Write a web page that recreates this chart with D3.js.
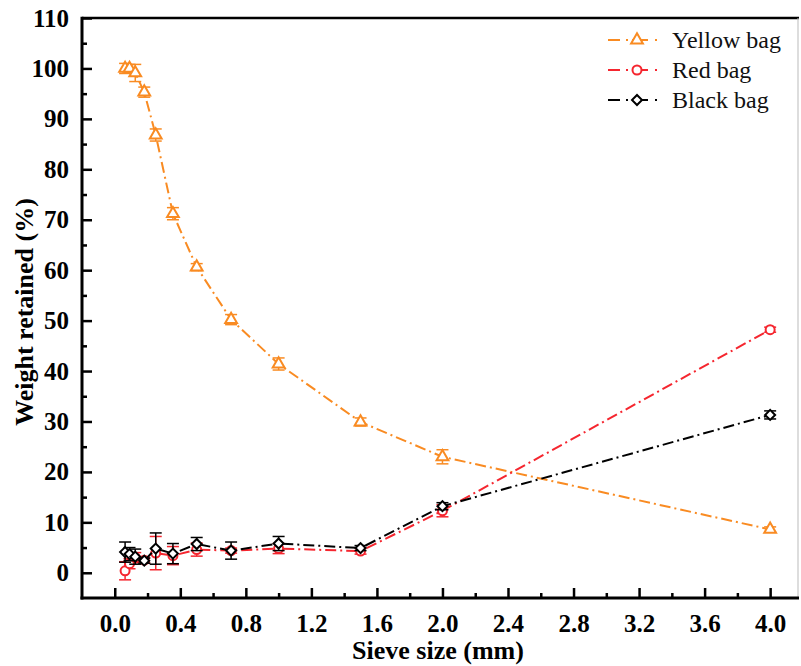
<!DOCTYPE html>
<html>
<head>
<meta charset="utf-8">
<script src="https://cdn.jsdelivr.net/npm/d3@7"></script>
<style>
  body { margin: 0; background: #fff; }
  svg { display: block; }
  text { font-family: "Liberation Serif", "Times New Roman", serif; }
  .tick-label { font-weight: bold; font-size: 25px; fill: #000; }
  .axis-title { font-weight: bold; font-size: 26px; fill: #000; }
  .legend-text { font-size: 24px; fill: #111; }
</style>
</head>
<body>
<svg width="801" height="666"></svg>
<script>
// sieve sizes (mm)
var sieve = [0.063, 0.09, 0.125, 0.18, 0.25, 0.355, 0.5, 0.71, 1.0, 1.5, 2.0, 4.0];

var yellow_val = [100.0, 100.0, 99.1, 95.3, 86.8, 71.2, 60.6, 50.2, 41.4, 29.9, 23.0, 8.6];
var yellow_err = [1.0, 0.8, 1.7, 1.0, 1.2, 1.2, 0.7, 1.0, 1.2, 0.8, 1.4, 0.5];

var red_val = [0.4, 1.8, 3.0, 2.5, 3.9, 3.4, 4.6, 4.4, 4.8, 4.3, 12.3, 48.2];
var red_err = [1.8, 1.0, 1.0, 0.5, 3.3, 1.8, 1.3, 0.5, 1.0, 0.6, 1.2, 0.5];

var black_val = [4.1, 3.7, 3.2, 2.4, 4.8, 3.8, 5.7, 4.4, 5.8, 4.9, 13.2, 31.3];
var black_err = [2.0, 1.3, 1.5, 0.5, 3.1, 2.0, 1.3, 1.7, 1.4, 0.5, 0.7, 0.8];

var x_ticks = [0.0, 0.4, 0.8, 1.2, 1.6, 2.0, 2.4, 2.8, 3.2, 3.6, 4.0];
var y_ticks = [0, 10, 20, 30, 40, 50, 60, 70, 80, 90, 100, 110];

var series_names = ["Yellow bag", "Red bag", "Black bag"];
var series_colors = ["#F98B22", "#F5262F", "#000000"];

var series = [
  {name: series_names[0], color: series_colors[0], vals: yellow_val, errs: yellow_err, shape: "tri"},
  {name: series_names[1], color: series_colors[1], vals: red_val, errs: red_err, shape: "circ"},
  {name: series_names[2], color: series_colors[2], vals: black_val, errs: black_err, shape: "dia"}
];

var svg = d3.select("svg"),
    pl = 82, pr = 798, pt = 18, pb = 598;

var x = d3.scaleLinear().domain([-0.2, 4.17]).range([pl, pr]);
var y = d3.scaleLinear().domain([-5, 110]).range([pb, pt]);

var dash = "11,4,2,4";

function marker(sel, shape, color){
  if(shape === "tri"){
    sel.append("path")
      .attr("d", d3.symbol().type(d3.symbolTriangle).size(60)())
      .attr("fill", "#fff").attr("stroke", color).attr("stroke-width", 2);
  }
  else if(shape === "circ"){
    sel.append("circle").attr("r", 4.5)
      .attr("fill", "#fff").attr("stroke", color).attr("stroke-width", 2);
  }
  else{
    sel.append("path")
      .attr("d", d3.symbol().type(d3.symbolSquare).size(50)())
      .attr("transform", "rotate(45)")
      .attr("fill", "#fff").attr("stroke", color).attr("stroke-width", 2);
  }
}

// axes (ticks inward)
var xAxis = d3.axisBottom(x).tickValues(x_ticks).tickSize(-10).tickPadding(16)
    .tickFormat(d3.format(".1f"));
var yAxis = d3.axisLeft(y).tickValues(y_ticks).tickSize(-10).tickPadding(13)
    .tickFormat(d3.format("d"));

var xMinor = d3.axisBottom(x).tickValues(x_ticks.slice(0, -1).map(function(d){ return d + 0.2; }))
    .tickSize(-5).tickFormat("");
var yMinor = d3.axisLeft(y).tickValues(y_ticks.slice(0, -1).map(function(d){ return d + 5; }))
    .tickSize(-5).tickFormat("");

var gx = svg.append("g").attr("transform", "translate(0," + pb + ")").call(xAxis);
svg.append("g").attr("transform", "translate(0," + pb + ")").call(xMinor);
var gy = svg.append("g").attr("transform", "translate(" + pl + ",0)").call(yAxis);
svg.append("g").attr("transform", "translate(" + pl + ",0)").call(yMinor);

svg.selectAll(".domain").remove();
svg.selectAll(".tick line").attr("stroke", "#000").attr("stroke-width", 2.5);
svg.selectAll("g").attr("font-family", null).attr("font-size", null);
gx.selectAll(".tick text").attr("class", "tick-label").attr("dy", "0.71em");
gy.selectAll(".tick text").attr("class", "tick-label");

// frame
svg.append("line").attr("x1", pl).attr("x2", pr + 1).attr("y1", pt).attr("y2", pt)
  .attr("stroke", "#000").attr("stroke-width", 2.5);
svg.append("line").attr("x1", pr).attr("x2", pr).attr("y1", pt).attr("y2", pb)
  .attr("stroke", "#bbb").attr("stroke-width", 1);
svg.append("line").attr("x1", pl).attr("x2", pl).attr("y1", pt - 1.2).attr("y2", pb + 1.5)
  .attr("stroke", "#000").attr("stroke-width", 3);
svg.append("line").attr("x1", pl - 1.5).attr("x2", pr + 1).attr("y1", pb).attr("y2", pb)
  .attr("stroke", "#000").attr("stroke-width", 3);

// axis titles
svg.append("text").attr("class", "axis-title")
  .attr("x", 438).attr("y", 659).attr("text-anchor", "middle")
  .text("Sieve size (mm)");
svg.append("text").attr("class", "axis-title")
  .attr("transform", "translate(33,312) rotate(-90)").attr("text-anchor", "middle")
  .text("Weight retained (%)");

var line = d3.line()
    .x(function(d) { return x(d.x); })
    .y(function(d) { return y(d.y); });

series.forEach(function(s){
  var pts = sieve.map(function(v, i){ return {x: v, y: s.vals[i], e: s.errs[i]}; });
  var g = svg.append("g");

  g.append("path")
    .datum(pts)
    .attr("fill", "none")
    .attr("stroke", s.color)
    .attr("stroke-width", 2)
    .attr("stroke-dasharray", dash)
    .attr("d", line);

  var eb = g.selectAll(".eb").data(pts).enter().append("g");
  eb.append("line")
    .attr("x1", function(d){ return x(d.x); }).attr("x2", function(d){ return x(d.x); })
    .attr("y1", function(d){ return y(d.y + d.e); }).attr("y2", function(d){ return y(d.y - d.e); })
    .attr("stroke", s.color).attr("stroke-width", 1.5);
  [1, -1].forEach(function(sg){
    eb.append("line")
      .attr("x1", function(d){ return x(d.x) - 6; }).attr("x2", function(d){ return x(d.x) + 6; })
      .attr("y1", function(d){ return y(d.y + sg * d.e); }).attr("y2", function(d){ return y(d.y + sg * d.e); })
      .attr("stroke", s.color).attr("stroke-width", 1.5);
  });

  g.selectAll(".mk").data(pts).enter().append("g")
    .attr("transform", function(d){ return "translate(" + x(d.x) + "," + y(d.y) + ")"; })
    .each(function(){ marker(d3.select(this), s.shape, s.color); });
});

// legend
var leg = svg.append("g");
series.forEach(function(s, i){
  var ly = 40 + i * 30;
  leg.append("line").attr("x1", 608).attr("x2", 620).attr("y1", ly).attr("y2", ly)
    .attr("stroke", s.color).attr("stroke-width", 2);
  leg.append("line").attr("x1", 626).attr("x2", 628).attr("y1", ly).attr("y2", ly)
    .attr("stroke", s.color).attr("stroke-width", 2);
  leg.append("line").attr("x1", 632).attr("x2", 648).attr("y1", ly).attr("y2", ly)
    .attr("stroke", s.color).attr("stroke-width", 2);
  leg.append("line").attr("x1", 655).attr("x2", 657).attr("y1", ly).attr("y2", ly)
    .attr("stroke", s.color).attr("stroke-width", 2);
  var m = leg.append("g").attr("transform", "translate(637," + ly + ")");
  marker(m, s.shape, s.color);
  leg.append("text").attr("class", "legend-text")
    .attr("x", 672).attr("y", ly).attr("dy", "0.35em")
    .text(s.name);
});
</script>
</body>
</html>
